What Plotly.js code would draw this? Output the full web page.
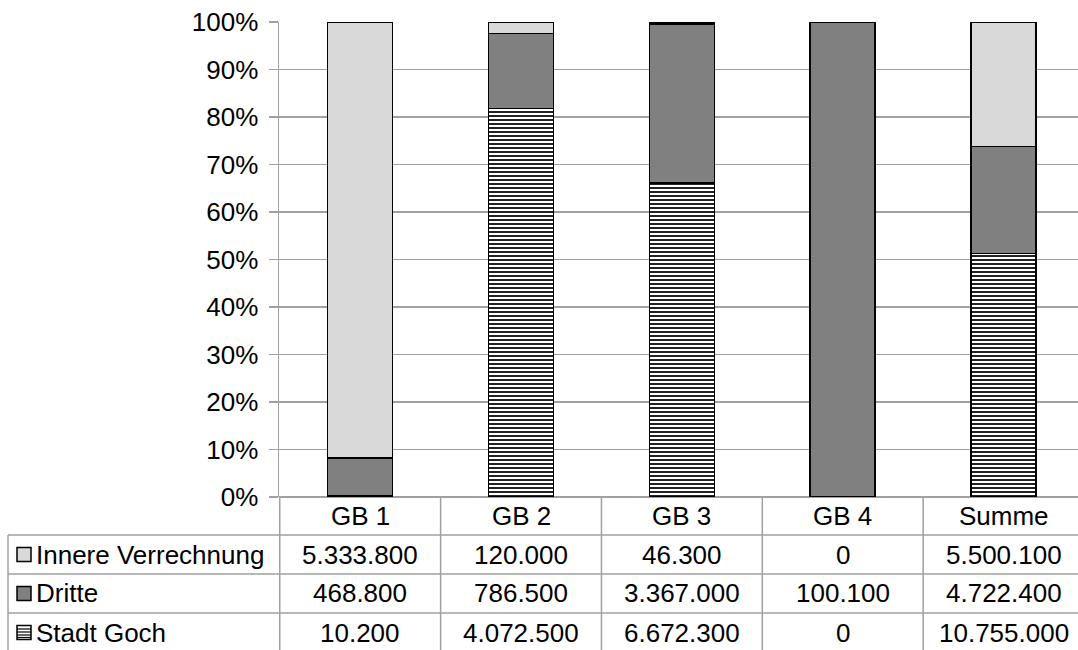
<!DOCTYPE html>
<html>
<head>
<meta charset="utf-8">
<script src="https://cdn.plot.ly/plotly-3.0.1.min.js"></script>
<style>
html,body{margin:0;padding:0;overflow:hidden;background:#fff;}
#chart{width:1084px;height:650px;}
</style>
</head>
<body>
<div id="chart"></div>
<script>
// ---- data ----
const categories = ["GB 1", "GB 2", "GB 3", "GB 4", "Summe"];
const seriesNames = ["Innere Verrechnung", "Dritte", "Stadt Goch"];
const innereVerrechnung = [5333800, 120000, 46300, 0, 5500100];
const dritte = [468800, 786500, 3367000, 100100, 4722400];
const stadtGoch = [10200, 4072500, 6672300, 0, 10755000];
const yTickVals = [0, 10, 20, 30, 40, 50, 60, 70, 80, 90, 100];

// ---- layout geometry ----
const W = 1084, H = 650;
const L = 279, T = 22, B = 153, R = 0;
const plotW = W - L - R, plotH = H - T - B;
const px2x = p => (p - L) / plotW;
const px2y = p => (H - B - p) / plotH;
const FONT = "Liberation Sans, Arial, sans-serif";
const FS = 26;
const lineCol = "#a0a0a0";

function fmt(v) {
  return String(v).replace(/\B(?=(\d{3})+(?!\d))/g, ".");
}

const outline = {color: "#000", width: 1.5};
const traces = [
  {name: seriesNames[2], type: "bar", x: categories, y: stadtGoch,
   marker: {color: "#ffffff", line: outline,
            pattern: {shape: "-", fgcolor: "#222", bgcolor: "#ffffff", size: 4, solidity: 0.5}}},
  {name: seriesNames[1], type: "bar", x: categories, y: dritte,
   marker: {color: "#808080", line: outline}},
  {name: seriesNames[0], type: "bar", x: categories, y: innereVerrechnung,
   marker: {color: "#d9d9d9", line: outline}}
];

// table geometry (pixels)
const headTop = 497, rowLines = [535, 574, 613], rowBottom = 652;
const headCenter = 516;
const rowCenters = [554.5, 593.5, 632.5];
const tableRows = [innereVerrechnung, dritte, stadtGoch];

const shapes = [];
const annotations = [];
rowLines.forEach(py => {
  shapes.push({type: "line", xref: "paper", yref: "paper",
    x0: px2x(8), x1: 1.01, y0: px2y(py), y1: px2y(py),
    line: {color: lineCol, width: 1.5}});
});
shapes.push({type: "line", xref: "paper", yref: "paper",
  x0: px2x(8), x1: px2x(8), y0: px2y(535), y1: px2y(rowBottom),
  line: {color: lineCol, width: 1.5}});
for (let i = 0; i < categories.length; i++) {
  shapes.push({type: "line", xref: "x", yref: "paper",
    x0: i - 0.5, x1: i - 0.5, y0: px2y(headTop), y1: px2y(rowBottom),
    line: {color: lineCol, width: 1.5}});
}
categories.forEach(c => {
  annotations.push({xref: "x", yref: "paper", x: c, y: px2y(headCenter),
    text: c, showarrow: false, xanchor: "center", yanchor: "middle",
    font: {family: FONT, size: FS, color: "#000"}});
});
const keyFill = ["#d9d9d9", "#808080", "#ffffff"];
tableRows.forEach((vals, r) => {
  vals.forEach((v, i) => {
    annotations.push({xref: "x", yref: "paper", x: categories[i], y: px2y(rowCenters[r]),
      text: fmt(v), showarrow: false, xanchor: "center", yanchor: "middle",
      font: {family: FONT, size: FS, color: "#000"}});
  });
  annotations.push({xref: "paper", yref: "paper", x: px2x(34), y: px2y(rowCenters[r]),
    text: seriesNames[r], showarrow: false, xanchor: "left", yanchor: "middle",
    font: {family: FONT, size: FS, color: "#000"}});
  const cy = rowCenters[r];
  shapes.push({type: "rect", xref: "paper", yref: "paper",
    x0: px2x(17), x1: px2x(31), y0: px2y(cy - 7), y1: px2y(cy + 7),
    fillcolor: keyFill[r], line: {color: "#000", width: 1.5}});
  if (r === 2) {
    [-3.5, -0.5, 2.5, 5].forEach(d => {
      shapes.push({type: "line", xref: "paper", yref: "paper",
        x0: px2x(17), x1: px2x(31), y0: px2y(cy + d), y1: px2y(cy + d),
        line: {color: "#000", width: 1.2}});
    });
  }
});

const layout = {
  width: W, height: H,
  margin: {l: L, r: R, t: T, b: B, pad: 0},
  paper_bgcolor: "#fff", plot_bgcolor: "#fff",
  barmode: "stack", barnorm: "percent", bargap: 0.596,
  showlegend: false,
  font: {family: FONT, size: FS, color: "#000"},
  xaxis: {type: "category", showticklabels: false, showgrid: false, zeroline: false,
    showline: false, ticks: "", fixedrange: true},
  yaxis: {range: [0, 100], tickvals: yTickVals, ticktext: yTickVals.map(v => v + "%"),
    showgrid: true, gridcolor: lineCol, gridwidth: 1.5, zeroline: true, zerolinecolor: lineCol,
    zerolinewidth: 1.5, showline: true, linecolor: lineCol, linewidth: 1.5,
    ticks: "outside", ticklen: 9, tickcolor: lineCol, tickwidth: 1.5,
    ticklabelstandoff: 5, tickfont: {family: FONT, size: FS, color: "#000"}, fixedrange: true},
  shapes: shapes,
  annotations: annotations
};

Plotly.newPlot("chart", traces, layout, {displayModeBar: false, staticPlot: true});
</script>
</body>
</html>
